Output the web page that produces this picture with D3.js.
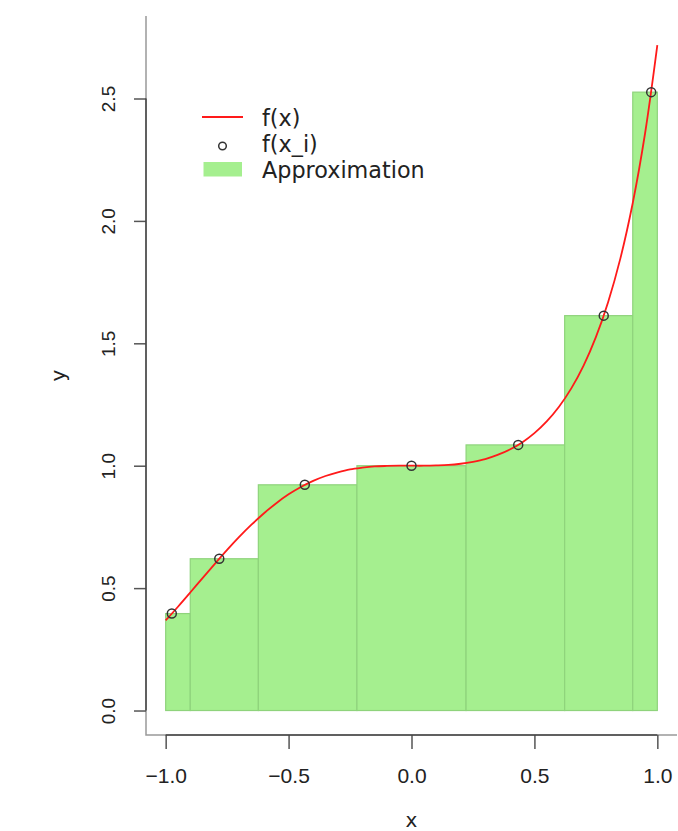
<!DOCTYPE html>
<html>
<head>
<meta charset="utf-8">
<script src="https://cdn.jsdelivr.net/npm/d3@7"></script>
<style>
  body { margin: 0; background: #fff; }
  svg { display: block; font-family: "DejaVu Sans", sans-serif; }
  .tick text { fill: #222; }
  .axis-label { font-size: 20px; fill: #222; }
</style>
</head>
<body>
<div id="chart"></div>
<script>
// curve f(x)
const curveX = [-1, -0.95, -0.9, -0.85, -0.8, -0.75, -0.7, -0.65, -0.6, -0.55, -0.5, -0.45, -0.4, -0.35, -0.3, -0.25, -0.2, -0.15, -0.1, -0.05,
  0, 0.05, 0.1, 0.15, 0.2, 0.25, 0.3, 0.35, 0.4, 0.45, 0.5, 0.55, 0.6, 0.65, 0.7, 0.75, 0.8, 0.85, 0.9, 0.95, 1];
const curveY = [0.368, 0.424, 0.482, 0.541, 0.599, 0.656, 0.710, 0.760, 0.806, 0.847, 0.883, 0.913, 0.938, 0.958, 0.973, 0.985, 0.992, 0.997, 0.999, 1.000,
  1.000, 1.000, 1.001, 1.003, 1.008, 1.016, 1.027, 1.044, 1.066, 1.095, 1.133, 1.181, 1.241, 1.316, 1.409, 1.525, 1.669, 1.848, 2.073, 2.357, 2.718];

// sample points f(x_i)
const nodeX = [-0.975, -0.782, -0.434, 0, 0.434, 0.782, 0.975];
const nodeY = [0.396, 0.620, 0.922, 1.000, 1.085, 1.613, 2.526];

// approximation bars: edges and heights
const barEdges = [-1, -0.9, -0.623, -0.222, 0.222, 0.623, 0.9, 1];
const barHeights = [0.396, 0.620, 0.922, 1.000, 1.085, 1.613, 2.526];

const xTicks = [-1, -0.5, 0, 0.5, 1];
const yTicks = [0, 0.5, 1, 1.5, 2, 2.5];
const legendLabels = ["f(x)", "f(x_i)", "Approximation"];

const width = 678, height = 831;
const margin = { left: 146, right: 677, top: 16, bottom: 735 };

const svg = d3.select("#chart")
  .append("svg")
  .attr("width", width)
  .attr("height", height);

const xScale = d3.scaleLinear().domain([-1.08, 1.08]).range([margin.left, margin.right]);
const yScale = d3.scaleLinear().domain([-0.1, 2.837]).range([margin.bottom, margin.top]);

const fmt = d => d3.format(".1f")(d).replace("-", "\u2212");

// bars
const bars = barHeights.map((h, i) => ({ x0: barEdges[i], x1: barEdges[i + 1], h }));
svg.append("g")
  .selectAll("rect")
  .data(bars)
  .join("rect")
    .attr("x", d => xScale(d.x0))
    .attr("y", d => yScale(d.h))
    .attr("width", d => xScale(d.x1) - xScale(d.x0))
    .attr("height", d => yScale(0) - yScale(d.h))
    .attr("fill", "#a5ef8f")
    .attr("stroke", "#8fd37c")
    .attr("stroke-width", 1.2);

// curve
const line = d3.line()
  .x(d => xScale(d[0]))
  .y(d => yScale(d[1]))
  .curve(d3.curveCatmullRom);
svg.append("path")
  .datum(curveX.map((x, i) => [x, curveY[i]]))
  .attr("d", line)
  .attr("fill", "none")
  .attr("stroke", "#ff1a1a")
  .attr("stroke-width", 1.8);

// points
svg.append("g")
  .selectAll("circle")
  .data(nodeX.map((x, i) => [x, nodeY[i]]))
  .join("circle")
    .attr("cx", d => xScale(d[0]))
    .attr("cy", d => yScale(d[1]))
    .attr("r", 4.5)
    .attr("fill", "none")
    .attr("stroke", "#333")
    .attr("stroke-width", 1.5);

// L-shaped box
svg.append("path")
  .attr("d", `M${margin.left},${margin.top}V${margin.bottom}H${margin.right}`)
  .attr("fill", "none")
  .attr("stroke", "#999")
  .attr("stroke-width", 1.5);

// axes
const bottomAxis = d3.axisBottom(xScale).tickValues(xTicks).tickFormat(fmt).tickSize(14).tickPadding(10);
const gx = svg.append("g")
  .attr("transform", `translate(0,${margin.bottom})`)
  .call(bottomAxis);
gx.select(".domain").remove();
gx.append("line")
  .attr("x1", xScale(-1)).attr("x2", xScale(1))
  .attr("stroke", "#444").attr("stroke-width", 1.5);
gx.selectAll(".tick line").attr("stroke", "#555").attr("stroke-width", 1.5);
gx.selectAll(".tick text")
  .attr("y", 40).attr("dy", null)
  .attr("dominant-baseline", "central")
  .attr("font-size", 21);

const leftAxis = d3.axisLeft(yScale).tickValues(yTicks).tickFormat(fmt).tickSize(12);
const gy = svg.append("g")
  .attr("transform", `translate(${margin.left},0)`)
  .call(leftAxis);
gy.select(".domain").remove();
gy.append("line")
  .attr("y1", yScale(0)).attr("y2", yScale(2.5))
  .attr("stroke", "#444").attr("stroke-width", 1.5);
gy.selectAll(".tick line").attr("stroke", "#555").attr("stroke-width", 1.5);
gy.selectAll(".tick text")
  .attr("x", null).attr("dy", null)
  .attr("text-anchor", "middle")
  .attr("dominant-baseline", "central")
  .attr("font-size", 19)
  .attr("transform", "translate(-38,0) rotate(-90)");

// axis labels
svg.append("text")
  .attr("class", "axis-label")
  .attr("x", (margin.left + margin.right) / 2)
  .attr("y", 820)
  .attr("text-anchor", "middle")
  .attr("dominant-baseline", "central")
  .text("x");

svg.append("text")
  .attr("class", "axis-label")
  .attr("transform", `translate(58,${(margin.top + margin.bottom) / 2}) rotate(-90)`)
  .attr("text-anchor", "middle")
  .attr("dominant-baseline", "central")
  .text("y");

// legend
const legend = svg.append("g").attr("transform", "translate(202,117)");
const rowH = 25.6;
legend.append("line")
  .attr("x1", 0).attr("x2", 41).attr("y1", 0).attr("y2", 0)
  .attr("stroke", "#ff1a1a").attr("stroke-width", 1.8);
legend.append("circle")
  .attr("cx", 20.5).attr("cy", 29).attr("r", 3.8)
  .attr("fill", "none").attr("stroke", "#333").attr("stroke-width", 1.5);
legend.append("rect")
  .attr("x", 1.5).attr("y", 45).attr("width", 38.5).attr("height", 14.5)
  .attr("fill", "#a5ef8f");
legend.selectAll("text")
  .data(legendLabels)
  .join("text")
    .attr("x", 60)
    .attr("y", (d, i) => 9.3 + i * rowH)
    .attr("font-size", 22.3)
    .attr("fill", "#222")
    .text(d => d);
</script>
</body>
</html>
